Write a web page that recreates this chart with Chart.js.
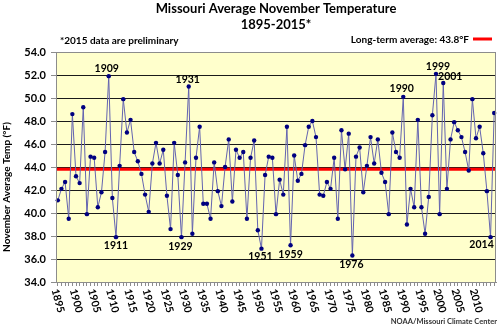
<!DOCTYPE html>
<html>
<head>
<meta charset="utf-8">
<script src="https://cdn.jsdelivr.net/npm/chart.js@4.4.1/dist/chart.umd.min.js"></script>
<style>
  html, body { margin: 0; padding: 0; background: #fff; }
  canvas { display: block; }
</style>
</head>
<body>
<canvas id="chart-nov" width="500" height="328"></canvas>
<script>
// November average temperature, Missouri (°F)
const firstYear = 1895;
const lastYear = 2015;
const lastLabelYear = 2010;
const years = [];
for (let y = firstYear; y <= lastYear; y++) years.push(String(y));

const novTemps = [
  41.1, 42.1, 42.7, 39.5, 48.6, 43.2, 42.6, 49.2, 39.9, 44.9,   // 1895-1904
  44.8, 40.5, 41.8, 45.3, 51.9, 41.3, 37.9, 44.1, 49.9, 47.0,   // 1905-1914
  48.1, 45.3, 44.5, 43.4, 41.6, 40.1, 44.3, 46.1, 44.3, 45.5,   // 1915-1924
  41.5, 38.6, 46.1, 43.3, 37.9, 44.4, 51.0, 38.2, 44.8, 47.5,   // 1925-1934
  40.8, 40.8, 39.5, 44.4, 41.9, 40.6, 44.0, 46.4, 41.0, 45.5,   // 1935-1944
  44.8, 45.3, 39.5, 44.8, 46.3, 38.5, 36.9, 43.3, 44.9, 44.8,   // 1945-1954
  39.9, 42.9, 41.6, 47.5, 37.2, 45.0, 42.8, 43.4, 45.9, 47.5,   // 1955-1964
  48.0, 46.6, 41.6, 41.5, 42.7, 42.1, 44.8, 39.5, 47.2, 43.8,   // 1965-1974
  46.9, 36.3, 44.9, 45.7, 41.8, 44.1, 46.6, 44.3, 46.4, 43.5,   // 1975-1984
  42.7, 39.9, 47.0, 45.3, 44.8, 50.1, 39.0, 42.1, 40.5, 48.1,   // 1985-1994
  40.5, 38.2, 41.4, 48.5, 52.1, 39.9, 51.3, 42.1, 46.4, 47.9,   // 1995-2004
  47.2, 46.6, 45.3, 43.7, 49.9, 46.5, 47.5, 45.2, 41.9, 37.9,   // 2005-2014
  48.7                                                          // 2015
];

const longTermAvg = 43.8;
const yMin = 34;
const yMax = 54;
const yStep = 2;

// years that get a text label next to their point
const labeledYears = [1909, 1911, 1929, 1931, 1951, 1959, 1976, 1990, 1999, 2001, 2014];
// label centre offsets from the point, in px
const labelOffsets = {
  1909: [-2, -8], 1911: [0, 8], 1929: [-1, 9], 1931: [-1, -7],
  1951: [-1, 8], 1959: [0, 9], 1976: [-1, 9], 1990: [-1.5, -8],
  1999: [2, -7], 2001: [7, -6], 2014: [-9, 7]
};

const FONT = 'Lato, "Liberation Sans", sans-serif';

const plotDecor = {
  id: 'plotDecor',
  beforeDraw(chart) {
    const { ctx, chartArea: a } = chart;
    ctx.save();
    ctx.fillStyle = '#FFFFCC';
    ctx.fillRect(a.left, a.top, a.right - a.left, a.bottom - a.top);
    ctx.restore();
  },
  beforeDatasetsDraw(chart) {
    // long-term average line, under the series
    const { ctx, chartArea: a, scales } = chart;
    const y = scales.y.getPixelForValue(longTermAvg);
    ctx.save();
    ctx.strokeStyle = '#FF0000';
    ctx.lineWidth = 3;
    ctx.beginPath();
    ctx.moveTo(a.left, y);
    ctx.lineTo(a.right, y);
    ctx.stroke();
    ctx.restore();
  },
  afterDraw(chart) {
    const { ctx, chartArea: a, scales } = chart;
    const xs = scales.x, ys = scales.y;
    ctx.save();

    // plot frame
    ctx.strokeStyle = '#8c8c8c';
    ctx.lineWidth = 1;
    ctx.strokeRect(Math.round(a.left) + 0.5, Math.round(a.top) + 0.5,
      Math.round(a.right - a.left) - 1, Math.round(a.bottom - a.top));

    ctx.fillStyle = '#000';
    ctx.textBaseline = 'middle';

    // titles
    const cx = (a.left + a.right) / 2;
    ctx.textAlign = 'center';
    ctx.font = 'bold 13px ' + FONT;
    ctx.fillText('Missouri Average November Temperature', cx, 9);
    ctx.fillText('1895-2015*', cx, 25);

    ctx.font = 'bold 10px ' + FONT;
    ctx.textAlign = 'left';
    ctx.fillText('*2015 data are preliminary', 60, 41);
    ctx.textAlign = 'right';
    ctx.fillText('Long-term average: ' + longTermAvg.toFixed(1) + '°F', 469, 40);
    ctx.strokeStyle = '#FF0000';
    ctx.lineWidth = 3;
    ctx.beginPath();
    ctx.moveTo(473, 39);
    ctx.lineTo(492, 39);
    ctx.stroke();

    // y axis title
    ctx.save();
    ctx.translate(7, (a.top + a.bottom) / 2 + 20);
    ctx.rotate(-Math.PI / 2);
    ctx.textAlign = 'center';
    ctx.font = 'bold 10px ' + FONT;
    ctx.fillText('November Average Temp (°F)', 0, 0);
    ctx.restore();

    // x tick labels every 5 years, turned clockwise
    ctx.font = 'bold 10.5px ' + FONT;
    ctx.textAlign = 'left';
    years.forEach((yr, i) => {
      if ((+yr - firstYear) % 5 !== 0 || +yr > lastLabelYear) return;
      const x = xs.getPixelForValue(i);
      ctx.save();
      ctx.translate(x - 3, a.bottom + 7);
      ctx.rotate(75 * Math.PI / 180);
      ctx.fillText(yr, 0, 0);
      ctx.restore();
    });

    // point labels for record years
    ctx.font = 'bold 10.5px ' + FONT;
    ctx.textAlign = 'center';
    labeledYears.forEach((yr) => {
      const i = yr - firstYear;
      const off = labelOffsets[yr] || [0, -8];
      const x = xs.getPixelForValue(i) + off[0];
      const y = ys.getPixelForValue(novTemps[i]) + off[1];
      ctx.fillText(String(yr), x, y);
    });

    // source
    ctx.font = 'bold 7.5px ' + FONT;
    ctx.textAlign = 'right';
    ctx.fillStyle = '#333';
    ctx.fillText('NOAA/Missouri Climate Center', 497, 322);

    ctx.restore();
  }
};

const ctxNov = document.getElementById('chart-nov');
const chartNov = new Chart(ctxNov, {
  type: 'line',
  data: {
    labels: years,
    datasets: [{
      label: 'November average',
      data: novTemps,
      borderColor: '#6464b0',
      borderWidth: 1,
      pointBackgroundColor: '#000080',
      pointBorderColor: '#000080',
      pointRadius: 2.2,
      pointBorderWidth: 0,
      tension: 0
    }]
  },
  options: {
    responsive: false,
    animation: false,
    layout: { padding: { left: 6, top: 52, right: 2.5, bottom: 0 } },
    plugins: {
      legend: { display: false },
      tooltip: { enabled: false }
    },
    scales: {
      x: {
        type: 'category',
        offset: true,
        grid: {
          offset: false,
          drawOnChartArea: false,
          drawTicks: true,
          tickLength: 4,
          color: '#8c8c8c'
        },
        border: { color: '#8c8c8c' },
        ticks: { display: false },
        afterFit(scale) { scale.height = 46; }
      },
      y: {
        min: yMin,
        max: yMax,
        grid: {
          color: (c) => (c.tick && (c.tick.value === yMin || c.tick.value === yMax)) ? '#8c8c8c' : '#1a1a1a',
          tickLength: 5,
          tickColor: '#8c8c8c'
        },
        border: { color: '#8c8c8c' },
        ticks: {
          stepSize: yStep,
          padding: 5,
          color: '#000',
          font: { family: FONT, size: 11, weight: 'bold' },
          callback: (v) => Number(v).toFixed(1)
        },
        afterFit(scale) { scale.width = 50; }
      }
    }
  },
  plugins: [plotDecor]
});
</script>
</body>
</html>
